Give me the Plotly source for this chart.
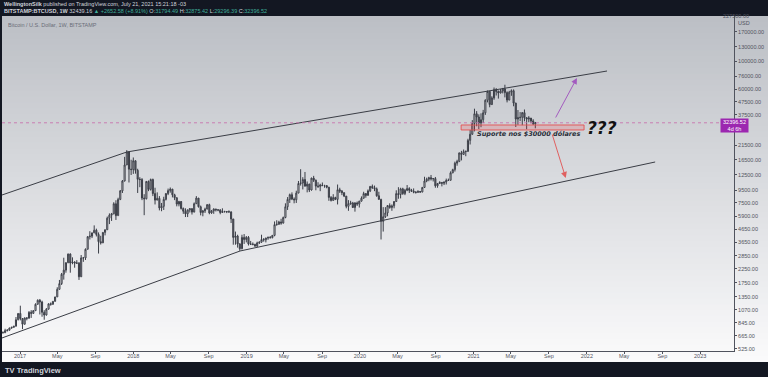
import numpy as np
import pandas as pd
import plotly.graph_objects as go

# ---------------- DATA (weekly BTC/USD, Bitstamp) ----------------
last_week_start = "2021-07-19"
first_open = 700.0

close = [
    # 2016 (from Oct 31)
    703, 702, 730, 735, 765, 775, 790, 890, 998,
    # 2017
    910, 820, 920, 915, 1020, 1000, 1050, 1180, 1270, 1230, 1020, 970, 1080,
    1190, 1180, 1245, 1350, 1550, 1720, 2040, 2200, 2520, 2950, 2510, 2550,
    2500, 2500, 1950, 2750, 2750, 3220, 4050, 4090, 4340, 4560, 4220, 3700,
    3620, 4380, 4600, 5680, 6000, 6150, 7390, 5950, 8000, 9350, 11200, 15000,
    19000, 13900, 13800,
    # 2018
    16200, 13600, 11550, 11500, 8200, 8100, 11100, 9600, 11500, 8900, 7900,
    8150, 6850, 7050, 8000, 8900, 9400, 9650, 8700, 8250, 7350, 7700, 6780,
    6450, 6150, 6610, 6760, 6350, 7400, 8200, 7000, 6300, 6490, 6700, 7270,
    6250, 6500, 6710, 6620, 6590, 6300, 6420, 6400, 6400, 6360, 5600, 4000,
    4100, 3550, 3250, 4000, 3850,
    # 2019
    4000, 3550, 3530, 3520, 3420, 3620, 3670, 3850, 3830, 3950, 4000, 3980,
    4150, 5050, 5080, 5300, 5200, 5750, 7000, 8000, 8720, 8050, 7950, 8980,
    10700, 10800, 11500, 10200, 10580, 9500, 11800, 11350, 10200, 10150,
    10400, 10300, 10300, 10000, 8300, 7860, 8280, 8000, 9550, 9300, 9050,
    8500, 7050, 7400, 7500, 6900, 7500, 7350,
    # 2020
    7750, 8180, 8900, 8600, 9350, 10150, 9900, 9700, 8550, 8000, 5360, 5830,
    6250, 7150, 6900, 7120, 7700, 8900, 8750, 9700, 8900, 9450, 9750, 9460,
    9300, 9130, 9080, 9250, 9170, 9950, 11200, 11550, 11900, 11650, 11700,
    10250, 10700, 10900, 10750, 11000, 11300, 11350, 13000, 13770, 15500,
    16000, 18700, 18200, 19150, 19250, 23500, 26300, 32000,
    # 2021
    38200, 36000, 32300, 34300, 38900, 48900, 57500, 45200, 51000, 59300,
    57400, 55800, 57900, 60000, 56200, 49100, 56600, 58200, 46400, 34700,
    35600, 35800, 39000, 35500, 34700, 35300, 33500, 31794.49, 32396.52,
]

high = [
    745, 720, 755, 750, 770, 782, 795, 935, 1000,
    1150, 910, 925, 930, 1040, 1060, 1060, 1200, 1290, 1300, 1260, 1060, 1100,
    1200, 1220, 1250, 1350, 1610, 1840, 2090, 2760, 2540, 2980, 2990, 2780,
    2590, 2640, 2550, 2900, 2800, 3270, 4100, 4480, 4370, 4980, 4690, 4380,
    4120, 4400, 4620, 5850, 6200, 6250, 7600, 7880, 8250, 9500, 11400, 17400,
    19666, 19200, 16500,
    17200, 16300, 14000, 12000, 11800, 8800, 11200, 11300, 11700, 11700, 9900,
    9100, 8500, 7500, 8400, 9000, 9750, 9950, 9700, 8870, 8300, 7800, 7760,
    6900, 6800, 6650, 6780, 6800, 7570, 8500, 8200, 7150, 6600, 6880, 7340,
    7400, 6600, 6800, 6750, 6680, 6700, 6800, 6500, 6470, 6550, 6450, 5600,
    4450, 4200, 3600, 4200, 4250,
    4100, 4100, 3750, 3650, 3560, 3700, 3720, 4200, 3950, 3980, 4060, 4100,
    4180, 5350, 5470, 5420, 5620, 5850, 7450, 8350, 8900, 9100, 8300, 9380,
    11200, 13880, 12000, 13200, 11100, 10650, 11900, 12300, 11500, 10950,
    10650, 10900, 10450, 10350, 10050, 8500, 8800, 8400, 10500, 9900, 9500,
    9100, 8500, 7900, 7800, 7650, 7600, 7700,
    7800, 8450, 9200, 8750, 9600, 10200, 10500, 10300, 9950, 9200, 8100, 6950,
    6950, 7200, 7450, 7300, 7750, 9450, 10000, 9900, 9900, 9700, 10400, 10000,
    9700, 9780, 9300, 9450, 9320, 10050, 12100, 11900, 12100, 12500, 11800,
    12050, 10800, 11150, 11000, 11050, 11700, 11700, 13350, 14000, 15950,
    16500, 18800, 19400, 19900, 19450, 24200, 28400, 34000,
    41900, 40100, 37800, 38500, 41000, 49700, 58300, 57500, 52600, 61700,
    61000, 58400, 60000, 61200, 64900, 57500, 58000, 59600, 59600, 46700,
    40900, 39400, 39400, 41300, 36000, 36600, 35100, 34600, 32875.42,
]

low = [
    680, 695, 700, 718, 730, 755, 770, 790, 880,
    880, 750, 815, 880, 910, 920, 990, 1045, 1170, 980, 940, 890, 960,
    1070, 1150, 1170, 1240, 1350, 1540, 1680, 1850, 2100, 2500, 2100, 2450,
    2300, 2470, 1840, 1960, 2560, 2650, 3210, 3850, 3950, 4340, 4070, 2980,
    3510, 3610, 4150, 4580, 5100, 5400, 6100, 5500, 5950, 7900, 9000, 11100,
    15000, 10900, 12500,
    12750, 12800, 9000, 10000, 7900, 6000, 8000, 9300, 9400, 8500, 7300,
    7900, 6550, 6450, 6600, 7850, 8650, 9050, 8300, 7900, 7050, 7050, 6650,
    6150, 5800, 5800, 6300, 6070, 6330, 7350, 6900, 5980, 5880, 6250, 6700,
    6100, 6150, 6150, 6420, 6450, 6100, 6280, 6300, 6230, 6300, 5200, 3500,
    3500, 3320, 3130, 3220, 3550,
    3650, 3450, 3480, 3460, 3360, 3350, 3550, 3620, 3700, 3650, 3830, 3920,
    3930, 4080, 4950, 5040, 5040, 5150, 5670, 6600, 7500, 7900, 7450, 7500,
    8980, 10300, 9600, 10100, 9100, 9150, 9400, 11000, 9450, 9850,
    9300, 10200, 9900, 9800, 7800, 7700, 7800, 7900, 7300, 9000, 8650,
    8350, 6800, 6500, 7250, 6850, 6400, 7100,
    6900, 7700, 8100, 8250, 8600, 9150, 9700, 9300, 8400, 8000, 3850, 4450,
    5700, 5880, 6750, 6500, 6800, 7650, 8100, 8150, 8700, 8650, 9300, 9000,
    9180, 8950, 8900, 9050, 9000, 9100, 9920, 10950, 11150, 11300, 11100,
    9900, 9900, 10600, 10150, 10400, 10500, 11200, 11400, 12900, 13300,
    14800, 15800, 16300, 18000, 17600, 19000, 21800, 26000,
    27700, 30400, 28900, 29900, 32200, 37400, 47000, 43000, 44800, 49300,
    53300, 50400, 55400, 55400, 51500, 47000, 48800, 53000, 43800, 30000,
    31200, 33400, 31000, 33300, 28800, 32700, 32100, 31100, 29296.39,
]

current_price = 32396.52

# analyst drawings (date, price anchors)
upper_line_dates = ["2016-11-04", "2017-12-11", "2022-03-07"]
upper_line_prices = [8674, 19010, 83370]
lower_line_dates = ["2016-11-04", "2018-12-11", "2022-08-09"]
lower_line_prices = [638, 3121, 15840]
support_dates = ["2020-11-22", "2021-12-23"]
support_prices = [28410, 31120]
up_arrow_from = ("2021-09-20", 34720)
up_arrow_to = ("2021-11-30", 73400)
down_arrow_from = ("2021-09-10", 26890)
down_arrow_to = ("2021-10-25", 11830)
support_label_pos = ("2021-06-26", 26410)
question_pos = ("2022-02-19", 29450)

y_tick_vals = [170000, 130000, 100000, 76000, 60000, 47500, 37500, 21500, 16500,
               12500, 9500, 7500, 5900, 4650, 3650, 2850, 2250, 1750, 1350, 1070,
               845, 665, 525]
x_tick_dates = ["2017-01-01", "2017-05-01", "2017-09-01", "2018-01-01", "2018-05-01",
                "2018-09-01", "2019-01-01", "2019-05-01", "2019-09-01", "2020-01-01",
                "2020-05-01", "2020-09-01", "2021-01-01", "2021-05-01", "2021-09-01",
                "2022-01-01", "2022-05-01", "2022-09-01", "2023-01-01"]
x_tick_text = ["2017", "May", "Sep", "2018", "May", "Sep", "2019", "May", "Sep", "2020",
               "May", "Sep", "2021", "May", "Sep", "2022", "May", "Sep", "2023"]

x_range = ["2016-11-04", "2023-04-20"]
y_range_vals = [503, 227500]

# ---------------- FIGURE ----------------
weeks = pd.date_range(end=last_week_start, periods=len(close), freq="7D")
opens = [first_open] + close[:-1]

W, H = 768, 377
ML, MR, MT, MB = 2, 34, 16, 26
PW, PH = W - ML - MR, H - MT - MB


def px(xp):
    return (xp - ML) / PW


def py(yp):
    return (H - MB - yp) / PH


fig = go.Figure()

fig.add_trace(go.Candlestick(
    x=weeks, open=opens, high=high, low=low, close=close,
    increasing=dict(line=dict(color="#3b3e47", width=1), fillcolor="#ffffff"),
    decreasing=dict(line=dict(color="#3b3e47", width=1), fillcolor="#6a6c73"),
    whiskerwidth=0, hoverinfo="skip", showlegend=False,
))

fig.add_trace(go.Scatter(x=upper_line_dates, y=upper_line_prices, mode="lines",
                         line=dict(color="#3a3d45", width=1), hoverinfo="skip",
                         showlegend=False))
fig.add_trace(go.Scatter(x=lower_line_dates, y=lower_line_prices, mode="lines",
                         line=dict(color="#3a3d45", width=1), hoverinfo="skip",
                         showlegend=False))

# support box
sx = [support_dates[0], support_dates[1], support_dates[1], support_dates[0], support_dates[0]]
sy = [support_prices[0], support_prices[0], support_prices[1], support_prices[1], support_prices[0]]
fig.add_trace(go.Scatter(x=sx, y=sy, mode="lines", fill="toself",
                         fillcolor="rgba(242,54,69,0.18)",
                         line=dict(color="rgba(230,80,80,0.9)", width=1),
                         hoverinfo="skip", showlegend=False))

# current price dotted line
fig.add_trace(go.Scatter(x=x_range, y=[current_price, current_price], mode="lines",
                         line=dict(color="rgba(200,110,170,0.85)", width=1, dash="dot"),
                         hoverinfo="skip", showlegend=False))

# gradient background: stacked opaque bands (each reaches the bottom, so no seams)
shapes = []
nb = 60
top_px, bot_px = MT, H - 15
c0 = np.array([188, 191, 197])
c1 = np.array([251, 251, 252])
for i in range(nb):
    y0 = top_px + (bot_px - top_px) * i / nb
    t = (i + 0.5) / nb
    c = (c0 + (c1 - c0) * t).astype(int)
    shapes.append(dict(type="rect", xref="paper", yref="paper", layer="below",
                       x0=px(ML), x1=px(W), y0=py(bot_px), y1=py(y0),
                       fillcolor=f"rgb({c[0]},{c[1]},{c[2]})", line=dict(width=0)))

ann = []
lg = np.log10
# arrows
ann.append(dict(x=up_arrow_to[0], y=lg(up_arrow_to[1]), ax=up_arrow_from[0],
                ay=lg(up_arrow_from[1]), xref="x", yref="y", axref="x", ayref="y",
                showarrow=True, arrowhead=2, arrowsize=1.2, arrowwidth=1,
                arrowcolor="#a35bbf", text=""))
ann.append(dict(x=down_arrow_to[0], y=lg(down_arrow_to[1]), ax=down_arrow_from[0],
                ay=lg(down_arrow_from[1]), xref="x", yref="y", axref="x", ayref="y",
                showarrow=True, arrowhead=2, arrowsize=1.2, arrowwidth=1,
                arrowcolor="#e06060", text=""))
ann.append(dict(x=support_label_pos[0], y=lg(support_label_pos[1]), xref="x", yref="y",
                yanchor="middle",
                text="<b><i>Suporte nos $30000 dólares</i></b>", showarrow=False,
                font=dict(family="DejaVu Sans", size=6.5, color="#2a2e39")))
ann.append(dict(x=question_pos[0], y=lg(question_pos[1]), xref="x", yref="y",
                yanchor="middle",
                text="<b><i>???</i></b>", showarrow=False,
                font=dict(family="DejaVu Sans", size=17, color="#111111")))
# price label on axis
ann.append(dict(x=px(748.5), y=lg(current_price), xref="paper", yref="y", yshift=-3,
                yanchor="middle",
                text="32396.52<br>4d 6h", showarrow=False, width=27, height=13,
                bgcolor="#9c27b0", font=dict(family="Liberation Sans", size=5.5, color="white"),
                borderpad=0))
# top axis unit
ann.append(dict(x=px(751), y=py(16), xref="paper", yref="paper", yanchor="middle",
                text="227500.00", showarrow=False,
                font=dict(family="Liberation Sans", size=5.5, color="#50535e")))
ann.append(dict(x=px(752), y=py(23), xref="paper", yref="paper", yanchor="middle",
                text="USD", showarrow=False,
                font=dict(family="Liberation Sans", size=5.5, color="#50535e")))
# chart title in pane
ann.append(dict(x=px(6), y=py(25), xref="paper", yref="paper", xanchor="left",
                yanchor="middle",
                text="Bitcoin / U.S. Dollar, 1W, BITSTAMP", showarrow=False,
                font=dict(family="Liberation Sans", size=5.5, color="#6a6d78")))
# header
ann.append(dict(x=px(2), y=py(4), xref="paper", yref="paper", xanchor="left",
                yanchor="middle",
                text="<b>WellingtonSilk</b> published on TradingView.com, July 21, 2021 15:21:18 -03",
                showarrow=False, font=dict(family="Liberation Sans", size=5.5, color="#d1d4dc")))
g = "#3fae9a"
hdr2 = (f"<b>BITSTAMP:BTCUSD, 1W</b> 32439.16 <span style='color:{g}'>▲ +2652.58 (+8.91%)</span> "
        f"O:<span style='color:{g}'>31794.49</span> H:<span style='color:{g}'>32875.42</span> "
        f"L:<span style='color:{g}'>29296.39</span> C:<span style='color:{g}'>32396.52</span>")
ann.append(dict(x=px(2), y=py(11), xref="paper", yref="paper", xanchor="left",
                yanchor="middle", text=hdr2, showarrow=False,
                font=dict(family="Liberation Sans", size=5.5, color="#d1d4dc")))
# footer logo
ann.append(dict(x=px(3), y=py(370), xref="paper", yref="paper", xanchor="left",
                yanchor="middle", text="<b>TV TradingView</b>", showarrow=False,
                font=dict(family="Liberation Sans", size=7.5, color="#d1d4dc")))

fig.update_layout(
    width=W, height=H,
    margin=dict(l=ML, r=MR, t=MT, b=MB, pad=0),
    paper_bgcolor="#131722", plot_bgcolor="rgba(0,0,0,0)",
    shapes=shapes, annotations=ann, showlegend=False,
    xaxis=dict(type="date", range=x_range, rangeslider=dict(visible=False),
               tickmode="array", tickvals=x_tick_dates, ticktext=x_tick_text,
               showgrid=False, zeroline=False, showline=True, linecolor="#50535e",
               linewidth=1, ticks="outside", ticklen=2, tickcolor="#50535e",
               ticklabelstandoff=-3,
               tickfont=dict(family="Liberation Sans", size=5.5, color="#50535e")),
    yaxis=dict(type="log", side="right", range=[np.log10(y_range_vals[0]), np.log10(y_range_vals[1])],
               tickmode="array", tickvals=y_tick_vals,
               ticktext=[f"{v:.2f}" for v in y_tick_vals],
               showgrid=False, zeroline=False, showline=True, linecolor="#50535e",
               linewidth=1, ticks="outside", ticklen=2, tickcolor="#50535e",
               tickfont=dict(family="Liberation Sans", size=5.5, color="#50535e")),
)

fig.write_html("out.html", config={"displayModeBar": False},
               post_script="document.body.style.margin='0px';document.body.style.overflow='hidden';")
